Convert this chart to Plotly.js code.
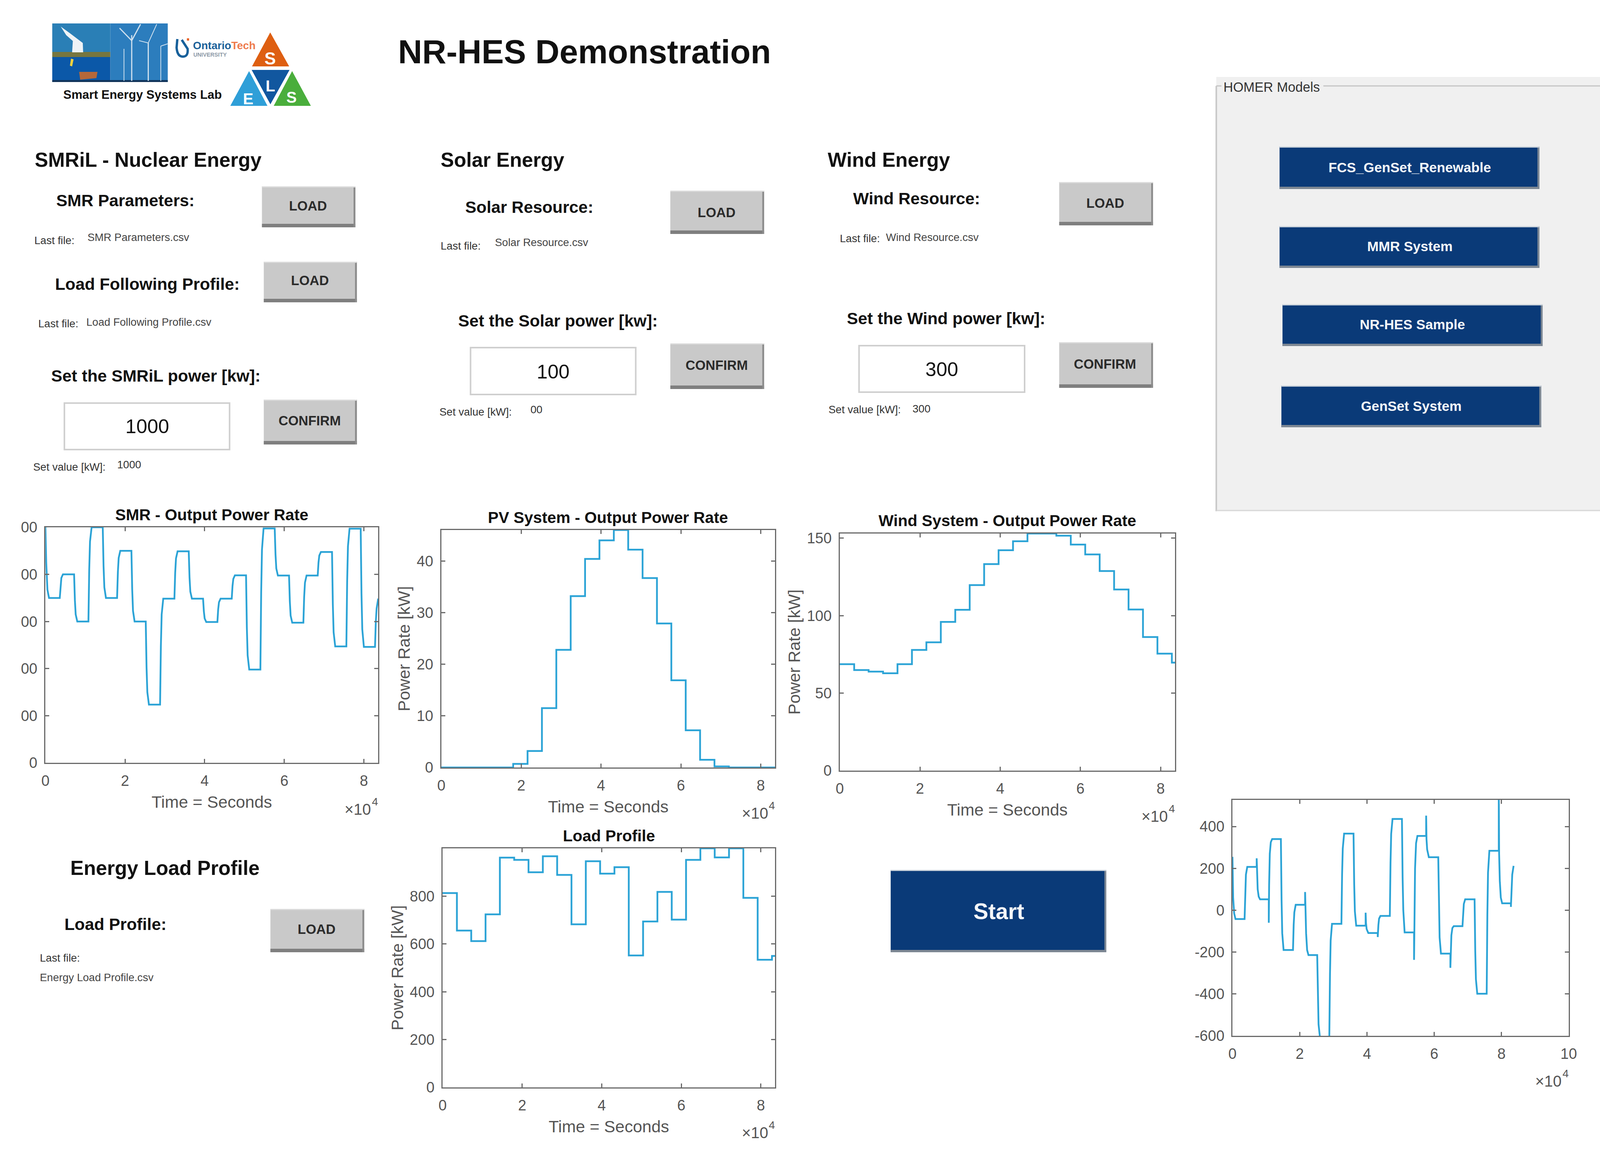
<!DOCTYPE html>
<html><head><meta charset="utf-8">
<script src="https://cdn.plot.ly/plotly-3.0.1.min.js"></script>
<style>html,body{margin:0;padding:0;background:#fff;overflow:hidden}#g{width:100vw;height:100vh}</style>
</head><body><div id="g"></div>
<script>
// ---- chart data (time in units of 10^4 s, power in kW) ----
const stepTimes = [0,0.36,0.72,1.08,1.44,1.8,2.16,2.52,2.88,3.24,3.6,3.96,4.32,4.68,5.04,5.4,5.76,6.12,6.48,6.84,7.2,7.56,7.92,8.28,8.36];
const pvPower   = [0,0,0,0,0,0.7,3.2,11.5,22.8,33.2,40.4,44,46,42.2,36.7,27.9,16.9,7.2,1.5,0.2,0,0,0,0,0];
const windPower = [68.7,64.9,63.9,62.8,68.7,77.9,82.8,96,103.8,119.7,133.3,142.2,148,153,153,151.6,145.9,139.5,128.8,116.9,104,86.2,75.5,69.7,69.7];
const loadPower = [813,656,612,724,961,952,900,967,889,682,946,894,921,552,694,818,702,952,1000,962,1000,793,534,550,550];

const smrTime = [0,0.02,0.05,0.09,
 0.36,0.38,0.40,0.44, 0.72,0.74,0.76,0.80, 1.08,1.10,1.12,1.16, 1.44,1.46,1.48,1.52,
 1.80,1.82,1.84,1.88, 2.16,2.18,2.20,2.24, 2.52,2.54,2.56,2.60, 2.88,2.90,2.92,2.96,
 3.24,3.26,3.28,3.32, 3.60,3.62,3.64,3.68, 3.96,3.98,4.00,4.04, 4.32,4.34,4.36,4.40,
 4.68,4.70,4.72,4.76, 5.04,5.06,5.08,5.12, 5.40,5.42,5.44,5.48, 5.76,5.78,5.80,5.84,
 6.12,6.14,6.16,6.20, 6.48,6.50,6.52,6.56, 6.84,6.86,6.88,6.92, 7.20,7.22,7.24,7.28,
 7.56,7.58,7.60,7.64, 7.92,7.94,7.96,8.00, 8.28,8.30,8.32,8.36];
const smrPower = [1000,850,735,700,
 700,755,785,800, 800,690,630,600, 600,820,940,1000, 1000,835,745,700,
 700,810,870,900, 900,735,645,600, 600,406,300,247, 247,495,630,697,
 697,808,868,898, 898,787,727,697, 697,643,613,598, 598,652,682,697,
 697,751,781,796, 796,576,456,396, 396,725,905,995, 995,885,825,795,
 795,685,625,595, 595,705,765,795, 795,850,880,895, 895,674,554,494,
 494,769,919,994, 994,718,567,492, 492,600,655,697];

const netTime = [0,0.02,0.05,0.09,
 0.36,0.38,0.40,0.44, 0.72,0.72,0.73,0.75,0.78,0.82, 1.08,1.08,1.09,1.11,1.14,1.18,
 1.44,1.46,1.48,1.52, 1.80,1.82,1.84,1.88, 2.16,2.16,2.17,2.19,2.22,2.26,
 2.52,2.54,2.56,2.60, 2.88,2.90,2.92,2.96, 3.24,3.26,3.28,3.32, 3.60,3.62,3.64,3.68,
 3.96,3.96,3.97,3.99,4.04, 4.32,4.32,4.34,4.36,4.40, 4.68,4.70,4.72,4.76,
 5.04,5.06,5.08,5.12, 5.40,5.40,5.41,5.43,5.46,5.50, 5.76,5.76,5.77,5.79,5.84,
 6.12,6.14,6.16,6.20, 6.48,6.48,6.49,6.51,6.54,6.58, 6.84,6.86,6.88,6.92,
 7.20,7.22,7.24,7.28, 7.56,7.58,7.60,7.64, 7.92,7.92,7.93,7.95,7.98,8.02,
 8.28,8.28,8.30,8.32,8.36];
const netPower = [255,60,-15,-42,
 -42,100,170,207, 207,248,170,100,65,52, 52,-60,120,270,325,340,
 340,50,-110,-190, -190,-70,-10,26, 26,87,10,-110,-190,-214,
 -214,-430,-545,-606, -606,-305,-145,-65, -65,170,295,366, 366,125,-5,-74,
 -74,-12,-60,-90,-109, -109,-128,-70,-40,-27, -27,225,365,436,
 436,155,0,-106, -106,-237,-50,200,320,355, 355,452,340,290,253,
 253,5,-130,-207, -207,-275,-200,-120,-85,-76, -76,-5,30,52,
 52,-195,-330,-399, -399,-23,180,284, 284,560,270,140,60,33,
 33,16,120,170,212];

const timeTicks = [0,2,4,6,8];
const timeTicksNet = [0,2,4,6,8,10];
const smrTicks = [0,200,400,600,800,1000];
const smrTickText = ['0','00','00','00','00','00'];
const pvTicks = [0,10,20,30,40];
const windTicks = [0,50,100,150];
const loadTicks = [0,200,400,600,800];
const netTicks = [-600,-400,-200,0,200,400];

// ---- page geometry helpers: positions are given on the 4349x2952 reference and mapped to paper fractions ----
const REF_W = 4349, REF_H = 2952, FS = 0.95, FONT = 'Liberation Sans';
const LINE = '#2ba3d6', AXIS = '#6a6a6a', TICKTXT = '#555555', NAVY = '#0a3a78', GREYBTN = '#c9c9c9';
const px = x => x / REF_W, py = y => 1 - y / REF_H;
const shapes = [], annotations = [];
function rect(x0, y0, x1, y1, fill, lineColor, lw) {
  shapes.push({type:'rect', xref:'paper', yref:'paper', x0:px(x0), x1:px(x1), y0:py(y0), y1:py(y1),
    fillcolor:fill, line:{color:lineColor||fill, width:lw||0}});
}
function poly(pts, fill) {
  const d = pts.map((p,i)=>(i?'L':'M')+px(p[0])+','+py(p[1])).join(' ')+' Z';
  shapes.push({type:'path', xref:'paper', yref:'paper', path:d, fillcolor:fill, line:{width:0}});
}
function seg(x0,y0,x1,y1,color,w){
  shapes.push({type:'line', xref:'paper', yref:'paper', x0:px(x0), x1:px(x1), y0:py(y0), y1:py(y1), line:{color:color,width:w}});
}
function text(t, x, y, size, color, anchor) {
  annotations.push({text:t, xref:'paper', yref:'paper', x:px(x), y:py(y), xanchor:anchor||'left', yanchor:'middle',
    showarrow:false, font:{family:FONT, size:size*FS, color:color||'#111'}, borderpad:0, borderwidth:0});
}
function greyButton(x0,y0,x1,y1,label,cx,cy){
  rect(x0,y0,x1,y1,GREYBTN);
  rect(x0,y1-9,x1,y1,'#7f7f7f');
  rect(x1-5,y0,x1,y1,'#8c8c8c');
  rect(x0,y0,x1,y0+3,'#dcdcdc');
  text('<b>'+label+'</b>',cx,cy,36,'#2b2b2b','center');
}
function navyButton(x0,y0,x1,y1,label,cx,cy,size){
  rect(x0,y0,x1,y1,NAVY);
  rect(x0,y1-6,x1,y1,'#7d8793');
  rect(x1-5,y0,x1,y1,'#7d8793');
  rect(x0,y0,x1,y0+3,'#c9d1da');
  text('<b>'+label+'</b>',cx,cy,size,'#f4f6f8','center');
}
function inputBox(x0,y0,x1,y1,val,cx,cy){
  rect(x0,y0,x1,y1,'#ffffff','#cfcfcf',4);
  text(val,cx,cy,53,'#111','center');
}

// ---- logo ----
rect(142,60,300,133,'#2a7fb6');
rect(142,133,300,146,'#77763f');
rect(142,146,300,210,'#0b58a8');
rect(300,60,456,210,'#2c7dbd');
poly([[165,68],[190,85],[225,110],[226,134],[196,134],[198,105],[180,90]],'#eef3f6');
poly([[193,150],[200,152],[196,170],[190,168]],'#f2d23c');
poly([[215,184],[265,184],[262,200],[218,204]],'#b5683a');
rect(142,205,456,210,'#11345a');
seg(358,90,358,207,'#cfe0ee',3); seg(358,104,382,62,'#cfe0ee',3); seg(358,104,325,72,'#cfe0ee',3);
seg(403,110,403,207,'#cfe0ee',3); seg(403,110,426,62,'#cfe0ee',2); seg(403,110,378,104,'#cfe0ee',2);
seg(337,125,337,207,'#cfe0ee',2); seg(437,118,437,207,'#cfe0ee',2); seg(437,118,456,112,'#cfe0ee',2);
text('<b>Smart Energy Systems Lab</b>',172,243,33,'#111');
// Ontario Tech wordmark
shapes.push({type:'path', xref:'paper', yref:'paper', fillcolor:'rgba(0,0,0,0)', line:{color:'#17609a',width:6},
  path:'M'+px(482)+','+py(100)+' L'+px(480)+','+py(122)+' Q'+px(482)+','+py(145)+' '+px(497)+','+py(145)+' Q'+px(512)+','+py(145)+' '+px(510)+','+py(125)+' L'+px(494)+','+py(102)});
poly([[508,98],[514,98],[514,104],[508,104]],'#e8632a');
text('<b>Ontario</b>',525,116,29,'#1b6199');
text('<b>Tech</b>',629,116,29,'#ee7b4c');
text('<b>UNIVERSITY</b>',526,140,15,'#8d99a6');
// SELS triangles
poly([[734.5,83],[685,170],[786,170]],'#de5f12');
poly([[677,182],[626,271],[727,271]],'#2f9fd8');
poly([[684,179],[787,179],[735,267]],'#11579f');
poly([[794,182],[744,271],[845,271]],'#4aae3c');
text('<b>S</b>',734,150,46,'#fff','center');
text('<b>L</b>',735,220,42,'#fff','center');
text('<b>E</b>',675,253,42,'#fff','center');
text('<b>S</b>',793,249,42,'#fff','center');

text('<b>NR-HES Demonstration</b>',1082,133,90,'#111');

// ---- SMRiL column ----
text('<b>SMRiL - Nuclear Energy</b>',95,410,54);
text('<b>SMR Parameters:</b>',153,513,45);
greyButton(712,477,966,582,'LOAD',837,527);
text('Last file:',93,615,29,'#333'); text('SMR Parameters.csv',238,607,29,'#444');
text('<b>Load Following Profile:</b>',150,727,45);
greyButton(717,670,970,774,'LOAD',842,718);
text('Last file:',104,828,29,'#333'); text('Load Following Profile.csv',235,824,29,'#444');
text('<b>Set the SMRiL power [kw]:</b>',139,962,45);
inputBox(175,1032,624,1151,'1000',400,1092);
greyButton(717,1023,970,1138,'CONFIRM',842,1077);
text('Set value [kW]:',90,1195,29,'#333'); text('1000',319,1189,29,'#333');

// ---- Solar column ----
text('<b>Solar Energy</b>',1198,410,54);
text('<b>Solar Resource:</b>',1265,530,45);
greyButton(1822,488,2077,599,'LOAD',1948,544);
text('Last file:',1198,630,29,'#333'); text('Solar Resource.csv',1345,621,29,'#444');
text('<b>Set the Solar power [kw]:</b>',1245,821,45);
inputBox(1279,890,1728,1010,'100',1503,951);
greyButton(1822,879,2077,996,'CONFIRM',1948,935);
text('Set value [kW]:',1195,1054,29,'#333'); text('00',1442,1048,29,'#333');

// ---- Wind column ----
text('<b>Wind Energy</b>',2250,410,54);
text('<b>Wind Resource:</b>',2319,508,45);
greyButton(2879,466,3134,577,'LOAD',3004,520);
text('Last file:',2283,610,29,'#333'); text('Wind Resource.csv',2408,607,29,'#444');
text('<b>Set the Wind power [kw]:</b>',2302,815,45);
inputBox(2335,885,2785,1004,'300',2560,946);
greyButton(2879,876,3134,993,'CONFIRM',3004,932);
text('Set value [kW]:',2252,1048,29,'#333'); text('300',2480,1046,29,'#333');

// ---- HOMER panel ----
rect(3306,197,4349,1309,'#f0f0f0');
seg(3306,220,3320,220,'#c4c4c4',3); seg(3597,220,4349,220,'#c4c4c4',3);
seg(3306,220,3306,1309,'#c8c8c8',4); seg(3306,1307,4349,1307,'#d8d8d8',3);
text('HOMER Models',3325,223,36,'#333');
navyButton(3478,375,4184,484,'FCS_GenSet_Renewable',3832,429,37);
navyButton(3478,579,4184,686,'MMR System',3832,631,37);
navyButton(3486,779,4193,886,'NR-HES Sample',3839,830,37);
navyButton(3483,987,4189,1094,'GenSet System',3836,1040,37);

// ---- load column + start ----
text('<b>Energy Load Profile</b>',191,2222,54);
text('<b>Load Profile:</b>',175,2366,45);
greyButton(735,2327,990,2438,'LOAD',861,2379);
text('Last file:',108,2452,29,'#333');
text('Energy Load Profile.csv',108,2502,29,'#444');
navyButton(2421,2227,3007,2438,'Start',2715,2333,60);

// ---- plots ----
function axes(id, box, xr, yr, xt, yt, ytt, xTitle, yTitle) {
  const base = {showline:true, mirror:'allticks', linecolor:AXIS, linewidth:3, ticks:'inside', ticklen:10, tickwidth:3,
    tickcolor:AXIS, showgrid:false, zeroline:false, fixedrange:true, automargin:false,
    tickfont:{family:FONT, size:40*FS, color:TICKTXT}, tickmode:'array'};
  const out = {};
  const titleFont = {family:FONT,size:45*FS,color:TICKTXT};
  out['xaxis'+id] = Object.assign({}, base, {domain:[px(box[0]),px(box[1])], anchor:'y'+id, range:xr, tickvals:xt, ticktext:xt.map(String), ticklabelstandoff:10});
  if (xTitle) out['xaxis'+id].title = {text:xTitle, standoff:20, font:titleFont};
  out['yaxis'+id] = Object.assign({}, base, {domain:[py(box[3]),py(box[2])], anchor:'x'+id, range:yr, tickvals:yt, ticktext:ytt||yt.map(String), ticklabelstandoff:10});
  if (yTitle) out['yaxis'+id].title = {text:yTitle, standoff:4, font:titleFont};
  return out;
}
const boxes = {
  smr:[123.5,1028,1350,1953], pv:[1199.5,2107,1357,1965], wind:[2282.5,3194,1366,1973],
  load:[1203,2107,2172,2784], net:[3350,4264,2048,2652]
};
const YT = 'Power Rate [kW]', XT = 'Time = Seconds';
const layout = Object.assign({width:window.innerWidth, height:window.innerHeight, margin:{l:0,r:0,t:0,b:0,pad:0}, paper_bgcolor:'#fff', plot_bgcolor:'#fff',
    showlegend:false, shapes:shapes, annotations:annotations, font:{family:FONT}},
  axes('',  boxes.smr,  [0,8.36],[0,1000], timeTicks, smrTicks, smrTickText, XT, ''),
  axes('2', boxes.pv,   [0,8.36],[0,46],   timeTicks, pvTicks, null, XT, YT),
  axes('3', boxes.wind, [0,8.36],[0,153],  timeTicks, windTicks, null, XT, YT),
  axes('4', boxes.load, [0,8.36],[0,1000], timeTicks, loadTicks, null, XT, YT),
  axes('5', boxes.net,  [0,10],[-600,527], timeTicksNet, netTicks, null, '', ''));
text('<b>SMR - Output Power Rate</b>',576,1318,43,'#111','center');
text('<b>PV System - Output Power Rate</b>',1653,1325,43,'#111','center');
text('<b>Wind System - Output Power Rate</b>',2738,1333,43,'#111','center');
text('<b>Load Profile</b>',1655,2140,43,'#111','center');
[[1028,2072],[2107,2082],[3194,2090],[2107,2900],[4264,2768]].forEach(p=>{
  text('×10',p[0]-19,p[1],42,TICKTXT,'right');
  text('4',p[0],p[1]-20,30,TICKTXT,'right');
});

const mk = (x,y,xa,ya,shape)=>({type:'scatter',mode:'lines',x:x,y:y,xaxis:xa,yaxis:ya,line:{color:LINE,width:4.5,shape:shape||'linear'},hoverinfo:'skip'});
const data = [
  mk(smrTime,smrPower,'x','y'),
  mk(stepTimes,pvPower,'x2','y2','hv'),
  mk(stepTimes,windPower,'x3','y3','hv'),
  mk(stepTimes,loadPower,'x4','y4','hv'),
  mk(netTime,netPower,'x5','y5')
];
Plotly.newPlot('g',data,layout,{staticPlot:true,displayModeBar:false});
</script></body></html>
